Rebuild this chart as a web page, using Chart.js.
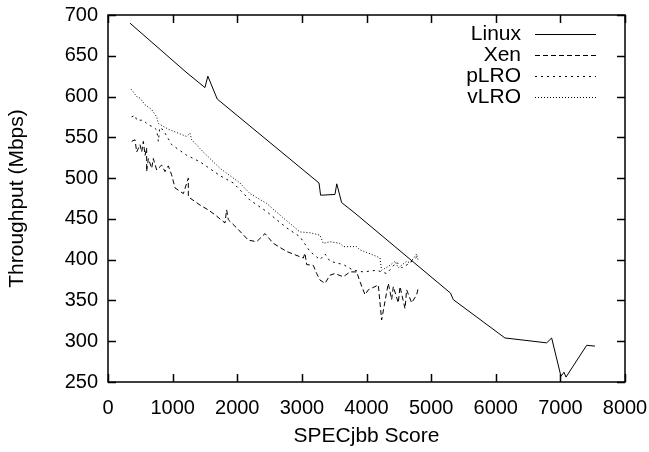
<!DOCTYPE html>
<html>
<head>
<meta charset="utf-8">
<script src="https://cdn.jsdelivr.net/npm/chart.js@4.4.1/dist/chart.umd.min.js"></script>
<style>
  html, body { margin: 0; padding: 0; background: #fff; }
</style>
</head>
<body>
<canvas id="chart" width="649" height="452"></canvas>
<script>
// series (SPECjbb score -> throughput in Mbps)
const linuxX = [340, 1207, 1500, 1545, 1690, 3265, 3290, 3512, 3540, 3615, 3822, 5300, 5343, 6142, 6788, 6865, 7009, 7056, 7087, 7407, 7535];
const linuxY = [690, 630, 611, 625, 597, 494, 479, 480, 493, 470, 457, 359, 351, 304, 298, 304, 257, 262, 256, 295, 294];

const xenX = [366, 418, 444, 495, 521, 547, 573, 598, 598, 624, 676, 701, 753, 830, 882, 933, 985, 1037, 1166, 1243, 1243, 1423, 1552, 1656, 1810, 1836, 1862, 1991, 2171, 2300, 2429, 2558, 2765, 3022, 3048, 3074, 3177, 3229, 3280, 3358, 3435, 3512, 3641, 3744, 3848, 3899, 3977, 4028, 4183, 4234, 4337, 4389, 4415, 4492, 4518, 4596, 4621, 4699, 4776, 4800];
const xenY = [545, 547, 532, 541, 532, 545, 528, 537, 508, 524, 512, 524, 510, 516, 508, 515, 504, 488, 481, 500, 477, 467, 461, 455, 445, 461, 449, 439, 424, 422, 432, 420, 410, 402, 408, 394, 393, 383, 375, 371, 381, 383, 379, 385, 385, 373, 357, 363, 369, 326, 371, 351, 367, 347, 367, 340, 363, 347, 357, 365];

const plroX = [366, 418, 444, 547, 624, 701, 753, 779, 800, 856, 985, 1217, 1423, 1733, 1939, 2197, 2455, 2765, 2971, 3074, 3126, 3280, 3358, 3435, 3641, 3796, 3951, 4157, 4312, 4466, 4550, 4673, 4800];
const plroY = [575, 577, 571, 571, 565, 563, 559, 545, 562, 559, 541, 528, 520, 503, 494, 473, 459, 439, 428, 416, 410, 400, 407, 398, 394, 387, 385, 387, 383, 397, 390, 396, 405];

const vlroX = [356, 444, 495, 573, 676, 753, 779, 933, 1217, 1269, 1295, 1475, 1733, 1836, 2042, 2197, 2455, 2700, 2971, 3126, 3280, 3331, 3435, 3590, 3641, 3848, 3899, 4157, 4209, 4234, 4363, 4441, 4492, 4621, 4673, 4776, 4802];
const vlroY = [609, 600, 598, 590, 584, 575, 567, 560, 551, 555, 547, 532, 512, 506, 494, 481, 469, 452, 434, 433, 430, 420, 422, 420, 416, 416, 412, 404, 402, 387, 393, 398, 390, 398, 396, 407, 398];

const xTicks = [0, 1000, 2000, 3000, 4000, 5000, 6000, 7000, 8000];
const yTicks = [250, 300, 350, 400, 450, 500, 550, 600, 650, 700];

const FONT = '"Liberation Sans", Arial, Helvetica, sans-serif';

function pts(xs, ys) {
  return xs.map((x, i) => ({ x: x, y: ys[i] }));
}

function series(label, xs, ys, dash) {
  return {
    label: label,
    data: pts(xs, ys),
    borderColor: '#000',
    borderWidth: 1,
    borderDash: dash,
    pointRadius: 0,
    tension: 0,
    fill: false
  };
}

// gnuplot style: frame, inward ticks, legend with text on the left of the sample
const frame = {
  id: 'frame',
  afterDraw(chart) {
    const ctx = chart.ctx;
    const a = chart.chartArea;
    const xs = chart.scales.x, ys = chart.scales.y;
    ctx.save();
    ctx.strokeStyle = '#000';
    ctx.lineWidth = 1.5;
    ctx.strokeRect(a.left, a.top, a.right - a.left, a.bottom - a.top);
    ctx.beginPath();
    xTicks.forEach(v => {
      const p = Math.round(xs.getPixelForValue(v)) + 0.5;
      ctx.moveTo(p, a.bottom); ctx.lineTo(p, a.bottom - 8);
      ctx.moveTo(p, a.top); ctx.lineTo(p, a.top + 8);
    });
    yTicks.forEach(v => {
      const p = Math.round(ys.getPixelForValue(v)) + 0.5;
      ctx.moveTo(a.left, p); ctx.lineTo(a.left + 8, p);
      ctx.moveTo(a.right, p); ctx.lineTo(a.right - 8, p);
    });
    ctx.stroke();

    ctx.font = '21px ' + FONT;
    ctx.fillStyle = '#000';
    ctx.textAlign = 'right';
    ctx.textBaseline = 'middle';
    chart.data.datasets.forEach((d, i) => {
      const y = 34 + i * 21;
      ctx.fillText(d.label, 521, y);
      ctx.lineWidth = 1;
      ctx.setLineDash(d.borderDash);
      ctx.beginPath();
      ctx.moveTo(535, y + 0.5);
      ctx.lineTo(596, y + 0.5);
      ctx.stroke();
      ctx.setLineDash([]);
    });
    ctx.restore();
  }
};

new Chart(document.getElementById('chart'), {
  type: 'line',
  data: {
    datasets: [
      series('Linux', linuxX, linuxY, []),
      series('Xen', xenX, xenY, [5, 3]),
      series('pLRO', plroX, plroY, [2, 4]),
      series('vLRO', vlroX, vlroY, [1, 2])
    ]
  },
  options: {
    responsive: false,
    animation: false,
    layout: { padding: { top: 15, right: 24, left: 0, bottom: 0 } },
    plugins: { legend: { display: false }, tooltip: { enabled: false } },
    scales: {
      x: {
        type: 'linear',
        min: 0, max: 8000,
        afterBuildTicks: s => { s.ticks = xTicks.map(v => ({ value: v })); },
        afterFit: s => { s.height = 70; s.paddingLeft = 0; s.paddingRight = 0; },
        grid: { display: false, drawTicks: false },
        border: { display: false },
        ticks: { color: '#000', font: { family: FONT, size: 20 }, padding: 14, maxRotation: 0, callback: v => String(v) },
        title: { display: true, text: 'SPECjbb Score', color: '#000', font: { family: FONT, size: 21 }, padding: { top: 0, bottom: 3 } }
      },
      y: {
        type: 'linear',
        min: 250, max: 700,
        afterBuildTicks: s => { s.ticks = yTicks.map(v => ({ value: v })); },
        afterFit: s => { s.width = 108; s.paddingTop = 0; s.paddingBottom = 0; },
        grid: { display: false, drawTicks: false },
        border: { display: false },
        ticks: { color: '#000', font: { family: FONT, size: 20 }, padding: 10, callback: v => String(v) },
        title: { display: true, text: 'Throughput (Mbps)', color: '#000', font: { family: FONT, size: 21 }, padding: { top: 5, bottom: 0 } }
      }
    }
  },
  plugins: [frame]
});
</script>
</body>
</html>
